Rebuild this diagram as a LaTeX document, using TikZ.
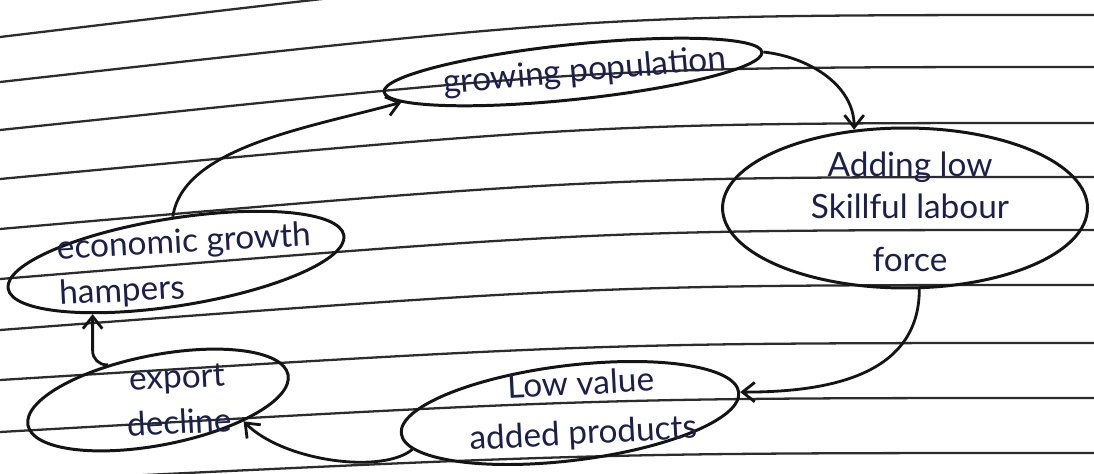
\documentclass[tikz,border=0pt]{standalone}
\usepackage{fontspec}
\setmainfont{Lato}
\usetikzlibrary{shapes.geometric,arrows.meta}
\definecolor{inkblue}{HTML}{1B1F4D}
\definecolor{pen}{HTML}{141414}
\begin{document}
\begin{tikzpicture}[x=0.02cm, y=-0.02cm,
    blob/.style={draw=pen, ellipse, line width=1.7pt, inner sep=0pt},
    ink/.style={text=inkblue, font=\fontsize{19}{24}\selectfont, align=center, inner sep=0pt},
    flow/.style={draw=pen, line width=1.6pt, -{Straight Barb[length=7pt, width=11pt]}},
    rule/.style={line width=1.3pt, pen!90}]
    \useasboundingbox[fill=white] (0,0) rectangle (1094,473);
    \clip (0,0) rectangle (1094,473);
    % ruled paper
    \foreach \l/\r in {37/-35, 82/15, 130/67, 179/123, 229/177, 279/230, 330/285, 380/343, 432/398, 482/453}
        \draw[rule] (0,\l) .. controls (600,\r) .. (1094,\r);
    % bubbles
    \node[blob, minimum width=7.6cm, minimum height=1.1cm, rotate=6] (grow) at (573,72) {};
    \node[blob, minimum width=7.3cm, minimum height=3.2cm] (add) at (905,208) {};
    \node[blob, minimum width=6.8cm, minimum height=1.9cm, rotate=7] (low) at (570,413) {};
    \node[blob, minimum width=5.3cm, minimum height=1.8cm, rotate=11] (exp) at (158,400) {};
    \node[blob, minimum width=6.8cm, minimum height=1.75cm, rotate=9] (eco) at (176,262) {};
    % texts
    \node[ink, rotate=5] (growtxt) at (585,72) {growing population};
    \node[ink] (addtxt) at (910,212) {Adding low\\Skillful labour\\[6pt]force};
    \node[ink, rotate=3] (lowtxt) at (582,410) {Low value\\[4pt]added products};
    \node[ink, rotate=3] (exptxt) at (178,400) {export\\[2pt]decline};
    \node[ink, rotate=3, align=left] (ecotxt) at (185,266) {economic growth\\[2pt]hampers};
    % cycle
    \draw[flow] (grow.east) .. controls +(45,5) and +(0,-45) .. (add.123);
    \draw[flow] (add.-80) .. controls +(0,90) and +(80,0) .. (low.east);
    \draw[flow] (low.186) .. controls +(-30,25) and +(40,40) .. (exp.-25);
    \draw[flow, rounded corners=8pt] (exp.134) -| (eco.203);
    \draw[flow] (eco.85) .. controls +(10,-70) and +(-90,25) .. (grow.184);
\end{tikzpicture}
\end{document}
